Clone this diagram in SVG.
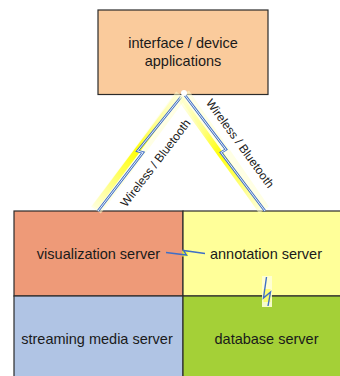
<svg xmlns="http://www.w3.org/2000/svg" width="340" height="376" viewBox="0 0 340 376">
<defs>
<style>
.box{stroke:#2b2b2b;stroke-width:1.2}
.lbl{font-family:"Liberation Sans",Arial,sans-serif;font-size:14.5px;fill:#1a1a1a;text-anchor:middle}
.wl{font-family:"Liberation Sans",Arial,sans-serif;font-size:12px;fill:#1a1a1a;text-anchor:middle}
.boltO{fill:none;stroke:#3f6fc6;stroke-width:2.6;stroke-linejoin:miter}
.boltI{fill:none;stroke:#ffffff;stroke-width:0.9;stroke-linejoin:miter}
.bolt{fill:none;stroke:#3f6fc6;stroke-width:1.4;stroke-linejoin:miter}
.halo{fill:none;stroke:#ffffd0;stroke-width:12;stroke-linecap:butt;opacity:0.55}
</style>
<linearGradient id="gL" gradientUnits="userSpaceOnUse" x1="96" y1="208" x2="178" y2="96">
<stop offset="0" stop-color="#ffff00" stop-opacity="0.05"/>
<stop offset="0.3" stop-color="#ffff00" stop-opacity="0.6"/>
<stop offset="0.5" stop-color="#ffff00" stop-opacity="0.95"/>
<stop offset="0.75" stop-color="#ffff00" stop-opacity="0.35"/>
<stop offset="1" stop-color="#ffff00" stop-opacity="0.05"/>
</linearGradient>
<linearGradient id="gR" gradientUnits="userSpaceOnUse" x1="181" y1="97" x2="261" y2="209">
<stop offset="0" stop-color="#ffff00" stop-opacity="0.05"/>
<stop offset="0.25" stop-color="#ffff00" stop-opacity="0.35"/>
<stop offset="0.5" stop-color="#ffff00" stop-opacity="0.95"/>
<stop offset="0.7" stop-color="#ffff00" stop-opacity="0.6"/>
<stop offset="1" stop-color="#ffff00" stop-opacity="0.05"/>
</linearGradient>
</defs>
<rect width="340" height="376" fill="#ffffff"/>

<g id="interface">
<rect class="box" x="98" y="10" width="170" height="84.5" fill="#facb9c"/>
<text class="lbl" x="183" y="48">interface / device</text>
<text class="lbl" x="183" y="65.5">applications</text>
</g>

<g id="visualization">
<rect class="box" x="14" y="211" width="169" height="85" fill="#ee9a78"/>
<text class="lbl" x="98.5" y="258.5">visualization server</text>
</g>
<g id="annotation">
<rect class="box" x="183" y="211" width="170" height="85" fill="#ffff99"/>
<text class="lbl" x="266" y="258.5">annotation server</text>
</g>
<g id="streaming">
<rect class="box" x="14" y="296" width="169" height="90" fill="#b0c4e4"/>
<text class="lbl" x="97" y="343.5">streaming media server</text>
</g>
<g id="database">
<rect class="box" x="183" y="296" width="170" height="90" fill="#a4d037"/>
<text class="lbl" x="266.5" y="343.5">database server</text>
</g>

<g id="connectors">
<!-- left wireless bolt -->
<line class="halo" x1="96" y1="210" x2="181" y2="95"/>
<line x1="95" y1="207" x2="178" y2="96" stroke="url(#gL)" stroke-width="6"/>
<polyline class="boltO" points="98,211 143,152.5 137.5,151 181,97"/>
<polyline class="boltI" points="98,211 143,152.5 137.5,151 181,97"/>
<!-- right wireless bolt -->
<line class="halo" x1="184" y1="94" x2="264" y2="210"/>
<line x1="180" y1="98" x2="260" y2="209" stroke="url(#gR)" stroke-width="6"/>
<polyline class="boltO" points="184,94 226,149.5 221,152.5 265,211"/>
<polyline class="boltI" points="184,94 226,149.5 221,152.5 265,211"/>
<circle cx="184" cy="93" r="3" fill="#ffffff"/>
<!-- visualization to annotation -->
<polygon points="182,250.5 189,250.5 187.5,256.5 182,256.5" fill="#ffff33" opacity="0.8"/>
<polyline class="bolt" points="166,252.5 186.5,255 183.5,250.5 205,253.5"/>
<!-- annotation to database -->
<rect x="262" y="276" width="10" height="31" fill="#ffffd8" opacity="0.9"/>
<rect x="263.5" y="289" width="7" height="13" fill="#ffff33" opacity="0.6"/>
<polyline class="bolt" points="266.5,277 263.5,298 270.5,292 268,306"/>
<text class="wl" transform="translate(155.5,163) rotate(-52.5)" y="4">Wireless / Bluetooth</text>
<text class="wl" transform="translate(240,143.5) rotate(54)" y="4">Wireless / Bluetooth</text>
</g>
</svg>
